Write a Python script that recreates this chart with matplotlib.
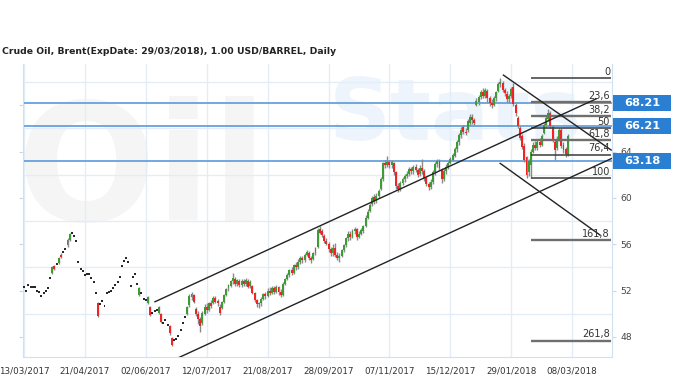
import matplotlib
matplotlib.use("Agg")
import matplotlib.pyplot as plt
from matplotlib.patches import Rectangle

# daily candles, bar index 0 = 13/03/2017
opens = [
    52.3, 52.0, 52.5, 52.3, 52.3, 52.3, 52.0, 51.9, 51.55, 51.8,
    52.0, 52.2, 53.05, 53.5, 54.1, 54.3, 54.4, 55.1, 55.3, 55.6,
    55.9, 56.4, 57.0, 56.7, 56.3, 54.5, 53.9, 53.7, 53.35, 53.4,
    53.4, 53.1, 52.7, 51.8, 50.9, 50.8, 51.1, 50.65, 51.75, 51.9,
    52.0, 52.2, 52.5, 52.75, 53.2, 54.1, 54.55, 54.85, 54.5, 52.4,
    53.2, 53.4, 52.6, 51.6, 51.75, 51.3, 51.2, 50.9, 50.6, 50.1,
    50.2, 50.3, 50.1, 50.0, 49.2, 49.45, 49.0, 48.9, 47.9, 47.7,
    47.8, 48.1, 48.6, 49.2, 49.7, 50.0, 50.75, 51.4, 51.6, 50.4,
    50.0, 49.5, 49.2, 50.0, 50.6, 50.3, 50.9, 50.9, 51.35, 51.1,
    50.6, 50.5, 51.0, 51.6, 52.2, 52.4, 52.8, 53.0, 52.6, 52.8,
    52.5, 52.8, 52.6, 52.8, 52.4, 52.4, 51.8, 51.2, 50.8, 50.9,
    51.3, 51.7, 51.5, 52.0, 51.8, 52.2, 51.9, 52.3, 51.9, 51.6,
    52.6, 53.0, 53.3, 53.8, 53.5, 54.2, 54.0, 54.5, 54.8, 54.6,
    55.1, 55.2, 54.8, 54.7, 55.2, 55.8, 57.3, 57.1, 56.7, 56.3,
    56.0, 55.6, 55.2, 55.7, 55.1, 54.8, 55.0, 55.5, 55.9, 56.5,
    56.9, 56.6, 57.1, 57.3, 56.6, 56.9, 57.1, 57.6, 58.3, 58.9,
    59.5, 60.1, 59.7, 60.2, 60.8, 61.6, 63.0, 62.8, 63.1, 62.8,
    63.0, 62.2, 61.0, 60.8, 61.3, 61.6, 61.9, 62.1, 62.5, 62.3,
    62.7, 62.4, 62.1, 62.6, 62.3, 61.7, 61.2, 60.9, 61.4, 62.2,
    62.9, 63.2, 62.4, 61.6, 62.3, 62.7, 63.0, 63.3, 63.6, 64.2,
    64.8, 65.4, 66.1, 65.7, 65.9, 66.5, 67.0, 66.7, 68.0, 68.3,
    68.7, 69.1, 68.8, 69.2, 68.6, 68.2, 68.0, 68.6, 69.2, 69.8,
    69.9, 69.3, 69.0, 68.5, 68.8, 69.6, 68.0, 66.9, 66.0, 65.3,
    64.5, 63.5, 62.2, 62.8, 64.0, 64.6, 64.3, 64.8, 64.6, 65.6,
    66.3, 66.8, 67.3, 66.1, 64.8, 64.3, 65.1, 65.9, 64.6, 64.2,
    63.7,
]
closes = [
    52.3, 52.0, 52.5, 52.3, 52.3, 52.3, 52.0, 51.9, 51.55, 51.8,
    52.0, 52.2, 53.05, 54.0, 53.9, 54.3, 54.8, 54.9, 55.3, 55.6,
    56.4, 56.9, 57.0, 56.7, 56.3, 54.5, 53.9, 53.7, 53.35, 53.4,
    53.4, 53.1, 52.7, 51.8, 49.8, 50.8, 51.1, 50.65, 51.75, 51.9,
    52.0, 52.2, 52.5, 52.75, 53.2, 54.1, 54.55, 54.85, 54.5, 52.4,
    53.2, 53.4, 52.6, 52.2, 51.75, 51.3, 51.2, 51.4, 49.9, 50.1,
    50.2, 50.3, 50.6, 49.3, 49.2, 49.45, 49.0, 48.3, 47.3, 47.7,
    47.8, 48.1, 48.6, 49.2, 49.7, 50.6, 51.5, 51.7, 51.0, 50.0,
    49.5, 48.9, 50.1, 50.6, 50.3, 50.9, 50.7, 51.35, 51.0, 50.9,
    50.1, 51.0, 51.6, 52.1, 52.5, 52.8, 53.1, 52.6, 52.9, 52.5,
    52.8, 52.6, 52.9, 52.3, 52.7, 51.8, 51.2, 50.8, 50.9, 51.3,
    51.7, 51.5, 52.0, 51.8, 52.2, 51.9, 52.3, 51.9, 51.6, 52.6,
    53.0, 53.3, 53.8, 53.5, 54.2, 54.0, 54.5, 54.8, 54.6, 55.1,
    55.3, 54.8, 54.6, 55.2, 55.7, 57.2, 57.0, 56.8, 56.3, 56.0,
    55.6, 55.2, 55.7, 55.1, 54.8, 55.0, 55.5, 55.9, 56.5, 56.9,
    56.6, 57.1, 57.3, 56.6, 56.9, 57.2, 57.6, 58.3, 58.8, 59.4,
    60.0, 59.7, 60.2, 60.6, 61.6, 63.0, 62.8, 63.1, 62.8, 63.1,
    62.2, 61.0, 60.8, 61.3, 61.6, 61.9, 62.1, 62.5, 62.3, 62.7,
    62.4, 62.0, 62.6, 62.3, 61.7, 61.2, 60.9, 61.4, 62.2, 62.9,
    63.2, 62.6, 61.6, 62.3, 62.7, 63.0, 63.4, 63.7, 64.2, 64.8,
    65.4, 65.9, 65.7, 65.6, 66.6, 67.0, 66.7, 66.5, 68.4, 68.7,
    69.1, 68.8, 69.3, 68.6, 68.2, 68.0, 68.6, 69.1, 69.8, 70.0,
    69.3, 69.05, 68.5, 68.8, 69.4, 68.1, 67.3, 66.2, 65.2, 64.4,
    63.3, 62.0, 63.2, 64.0, 64.6, 64.3, 64.8, 64.6, 65.3, 66.3,
    66.9, 67.3, 66.2, 65.0, 64.1, 65.1, 65.9, 64.5, 64.1, 63.8,
    65.3,
]
highs = [
    52.3, 52.0, 52.5, 52.3, 52.3, 52.3, 52.0, 51.9, 51.55, 51.8,
    52.0, 52.2, 53.05, 54.1, 54.2, 54.3, 54.9, 55.2, 55.3, 55.6,
    56.5, 57.0, 57.0, 56.7, 56.3, 54.5, 53.9, 53.7, 53.35, 53.4,
    53.4, 53.1, 52.7, 51.8, 51.0, 50.8, 51.1, 50.65, 51.75, 51.9,
    52.0, 52.2, 52.5, 52.75, 53.2, 54.1, 54.55, 54.85, 54.5, 52.4,
    53.2, 53.4, 52.6, 52.3, 51.75, 51.3, 51.2, 51.5, 50.7, 50.1,
    50.2, 50.3, 50.7, 50.1, 49.2, 49.45, 49.0, 49.0, 48.0, 47.7,
    47.8, 48.1, 48.6, 49.2, 49.7, 50.7, 51.7, 51.9, 51.7, 50.6,
    50.2, 49.7, 50.2, 50.8, 50.9, 51.0, 51.2, 51.5, 51.5, 51.3,
    50.8, 51.1, 51.7, 52.2, 52.6, 52.9, 53.55, 53.2, 53.0, 53.0,
    53.0, 53.0, 53.1, 53.0, 52.9, 52.5, 51.9, 51.3, 51.0, 51.4,
    51.8, 51.9, 52.2, 52.3, 52.4, 52.4, 52.5, 52.4, 52.1, 52.7,
    53.1, 53.5, 53.9, 54.0, 54.3, 54.5, 54.7, 55.0, 55.0, 55.2,
    55.5, 55.4, 55.0, 55.3, 55.8, 57.4, 57.6, 57.3, 56.9, 56.5,
    56.2, 55.8, 56.0, 56.1, 55.3, 55.2, 55.6, 56.0, 56.6, 57.1,
    57.1, 57.3, 57.5, 57.4, 57.1, 57.4, 57.7, 58.5, 59.0, 59.6,
    60.2, 60.3, 60.4, 60.8, 61.8, 63.1, 63.3, 63.6, 63.3, 63.3,
    63.1, 62.3, 61.3, 61.5, 61.8, 62.1, 62.3, 62.7, 62.7, 62.8,
    62.9, 62.6, 62.8, 63.4, 62.5, 61.9, 61.4, 61.6, 62.4, 63.1,
    63.4, 63.4, 62.6, 62.5, 62.9, 63.2, 63.5, 63.9, 64.4, 65.0,
    65.6, 66.1, 66.3, 66.0, 66.8, 67.2, 67.2, 66.9, 68.6, 68.9,
    69.3, 69.5, 69.5, 69.4, 68.8, 68.5, 68.8, 69.2, 70.0, 70.35,
    70.1, 69.5, 69.2, 69.0, 69.6, 69.9, 68.2, 67.1, 66.2, 65.5,
    64.7, 63.6, 63.4, 64.2, 64.8, 64.9, 65.0, 65.2, 65.5, 66.5,
    67.1, 67.7, 67.5, 66.3, 65.0, 65.3, 66.0, 66.0, 64.8, 64.4,
    65.5,
]
lows = [
    52.3, 52.0, 52.5, 52.3, 52.3, 52.3, 52.0, 51.9, 51.55, 51.8,
    52.0, 52.2, 53.05, 53.4, 53.8, 54.3, 54.3, 54.8, 55.3, 55.6,
    55.8, 56.3, 57.0, 56.7, 56.3, 54.5, 53.9, 53.7, 53.35, 53.4,
    53.4, 53.1, 52.7, 51.8, 49.7, 50.8, 51.1, 50.65, 51.75, 51.9,
    52.0, 52.2, 52.5, 52.75, 53.2, 54.1, 54.55, 54.85, 54.5, 52.4,
    53.2, 53.4, 52.6, 51.5, 51.75, 51.3, 51.2, 50.8, 49.8, 50.1,
    50.2, 50.3, 50.0, 49.2, 49.2, 49.45, 49.0, 48.2, 47.2, 47.7,
    47.8, 48.1, 48.6, 49.2, 49.7, 49.9, 50.6, 51.2, 50.9, 49.8,
    49.1, 48.4, 49.0, 49.9, 50.1, 50.2, 50.5, 50.8, 50.9, 50.7,
    49.9, 50.4, 50.9, 51.5, 52.0, 52.3, 52.6, 52.4, 52.4, 52.3,
    52.3, 52.4, 52.4, 52.2, 52.2, 51.7, 51.0, 50.6, 50.45, 50.7,
    51.2, 51.3, 51.4, 51.6, 51.7, 51.7, 51.8, 51.6, 51.4, 51.5,
    52.5, 52.9, 53.2, 53.3, 53.4, 53.8, 53.9, 54.3, 54.4, 54.5,
    55.0, 54.6, 54.4, 54.6, 55.1, 55.7, 56.9, 56.6, 56.1, 55.9,
    55.3, 55.0, 55.0, 54.9, 54.6, 54.45, 54.9, 55.3, 55.8, 56.3,
    56.4, 56.5, 56.9, 56.4, 56.5, 56.8, 57.0, 57.5, 58.2, 58.8,
    59.3, 59.5, 59.6, 60.0, 60.7, 61.5, 62.6, 62.7, 62.6, 62.6,
    62.0, 60.8, 60.5, 60.6, 61.1, 61.4, 61.7, 61.9, 62.1, 62.1,
    62.2, 61.8, 61.9, 62.1, 61.5, 61.0, 60.7, 60.8, 61.2, 62.0,
    62.7, 62.4, 61.3, 61.5, 62.1, 62.5, 62.9, 63.2, 63.5, 64.0,
    64.6, 65.2, 65.5, 65.4, 65.7, 66.3, 66.4, 66.3, 67.9, 68.0,
    68.5, 68.6, 68.6, 68.3, 67.9, 67.75, 67.9, 68.4, 69.1, 69.6,
    69.1, 68.8, 68.3, 68.2, 68.6, 67.9, 67.1, 66.0, 65.0, 64.2,
    63.1, 61.7, 61.9, 61.69, 63.9, 64.1, 64.1, 64.4, 64.5, 65.5,
    66.1, 66.6, 66.0, 64.8, 63.3, 64.1, 64.9, 64.3, 63.9, 63.5,
    63.6,
]

tick_labels = ['13/03/2017', '21/04/2017', '02/06/2017', '12/07/2017', '21/08/2017',
               '28/09/2017', '07/11/2017', '15/12/2017', '29/01/2018', '08/03/2018']
bars_per_tick = 28

price_ticks = [48, 52, 56, 60, 64, 68]
price_labels = ['48', '52', '56', '60', '64', '']  # 68 sits under the 68.21 box

levels = [68.21, 66.21, 63.18]

fib_high = 70.35
fib_low = 61.69
fib_ratios = [0, 23.6, 38.2, 50, 61.8, 76.4, 100, 161.8, 261.8]
fib_names = ['0', '23,6', '38,2', '50', '61,8', '76,4', '100', '161,8', '261,8']
fib_start = 233

# trend lines: (bar0, price0, bar1, price1)
trend_lines = [
    (60.2, 51.03, 263.0, 68.55),
    (70.9, 46.19, 270.2, 63.41),
    (220.4, 70.6, 269.9, 64.13),
    (218.9, 62.98, 264.8, 56.79),
]


def main():
    fig = plt.figure(figsize=(6.8, 3.8), dpi=100)
    ax = fig.add_axes([23 / 680, 23 / 380, 589 / 680, 293 / 380])
    ax.set_xlim(-0.46, 270.3)
    ax.set_ylim(46.26, 71.56)

    grid_c = '#e2edf8'
    for s in ['left', 'bottom', 'right']:
        ax.spines[s].set_color('#cfe0f1')
    ax.spines['top'].set_visible(False)

    # watermark
    ax.text(-0.01, 0.62, 'Oil', transform=ax.transAxes, fontsize=118, fontweight='bold',
            color='#7a7a7a', alpha=0.07, va='center', ha='left', zorder=0)
    ax.text(0.52, 0.82, 'Stats', transform=ax.transAxes, fontsize=62, fontweight='bold',
            color='#4a90d9', alpha=0.09, va='center', ha='left', zorder=0)

    xs = list(range(len(closes)))
    ticks = [i * bars_per_tick for i in range(len(tick_labels))]
    ax.set_xticks(ticks)
    ax.set_xticklabels(tick_labels)
    ax.set_yticks(price_ticks)
    ax.set_yticklabels(price_labels)
    ax.set_yticks([50, 54, 58, 62, 66, 70], minor=True)
    ax.grid(axis='x', color=grid_c, lw=1)
    ax.grid(axis='y', which='minor', color=grid_c, lw=1)
    ax.set_axisbelow(True)
    ax.tick_params(axis='x', length=0, labelsize=6.3, labelcolor='#333333', pad=7)
    ax.tick_params(axis='y', which='major', left=True, right=True, labelleft=False,
                   labelright=True, length=3, color='#c8d8e8', labelsize=6.6,
                   labelcolor='#444444', pad=3)
    ax.tick_params(axis='y', which='minor', length=0)

    # candles
    flat = [i for i in xs if opens[i] == closes[i] and highs[i] == lows[i]]
    body = [i for i in xs if i not in flat]
    ax.vlines(body, [lows[i] for i in body], [highs[i] for i in body],
              color='#8a8a8a', lw=1, zorder=3)
    colors = ['#3d9a35' if closes[i] >= opens[i] else '#f42323' for i in body]
    ax.bar(body, [max(abs(closes[i] - opens[i]), 0.08) for i in body],
           bottom=[min(opens[i], closes[i]) for i in body], width=0.9,
           color=colors, zorder=4)
    ax.hlines([closes[i] for i in flat], [i - 0.45 for i in flat], [i + 0.45 for i in flat],
              color='#111111', lw=1.3, zorder=4)

    # horizontal levels with blue boxes
    ytr = ax.get_yaxis_transform()
    for lv in levels:
        ax.axhline(lv, color='#5a9ad8', lw=1.2, zorder=2)
        ax.add_patch(Rectangle((1.0017, lv - 0.69), 0.0985, 1.38, transform=ytr,
                               fc='#2b7fd2', ec='none', clip_on=False, zorder=6))
        ax.text(1.051, lv, '%.2f' % lv, transform=ytr, ha='center', va='center',
                color='white', fontsize=8.2, fontweight='bold', zorder=7, clip_on=False)

    # fibonacci levels
    for r, name in zip(fib_ratios, fib_names):
        p = fib_high - (fib_high - fib_low) * r / 100
        thick = name in ('23,6', '38,2', '61,8', '161,8', '261,8')
        ax.hlines(p, fib_start, 269.9, color='#6f6f6f' if thick else '#3a3a3a',
                  lw=1.7 if thick else 1.1, zorder=5)
        ax.text(269.4, p + 0.1, name, ha='right', va='bottom', fontsize=7,
                color='#333333', zorder=6)

    for x0, y0, x1, y1 in trend_lines:
        ax.plot([x0, x1], [y0, y1], color='#222222', lw=1, zorder=5)

    fig.text(2 / 680, 1 - 52 / 380, 'Crude Oil, Brent(ExpDate: 29/03/2018), 1.00 USD/BARREL, Daily',
             fontsize=6.7, fontweight='bold', va='center', ha='left', color='#222222')

    fig.savefig('out.png', dpi=100)


if __name__ == '__main__':
    main()
